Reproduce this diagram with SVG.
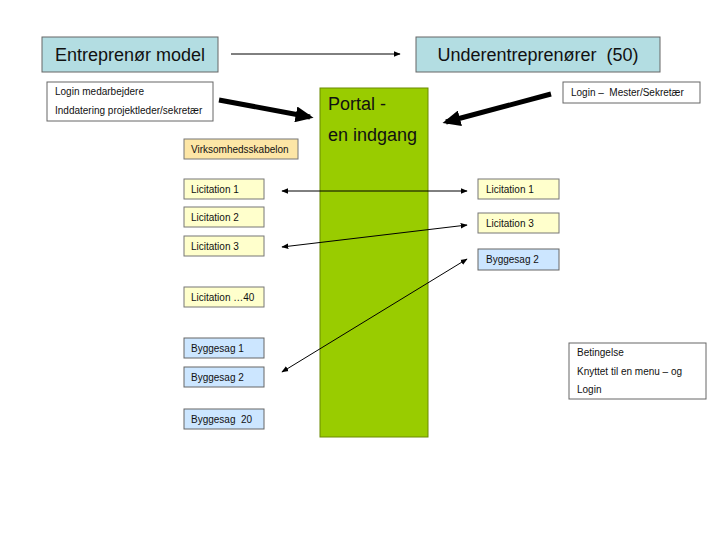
<svg xmlns="http://www.w3.org/2000/svg" width="720" height="540" viewBox="0 0 720 540">
<style>
text{font-family:"Liberation Sans",Arial,sans-serif;fill:#111;white-space:pre}
.title{fill:#b3dde2;stroke:#666;stroke-width:1}
.t{font-size:18px}
.s{font-size:10px}
.white{fill:#fff;stroke:#666;stroke-width:1}
.yel{fill:#ffffcc;stroke:#777;stroke-width:1}
.org{fill:#fde6a6;stroke:#777;stroke-width:1}
.blu{fill:#cce6ff;stroke:#666;stroke-width:1}
.thin{stroke:#000;stroke-width:1;fill:none}
.thick{stroke:#000;stroke-width:5;fill:none}
</style>
<defs>
<marker id="ah" viewBox="0 0 10 10" refX="9" refY="5" markerWidth="7" markerHeight="7" markerUnits="userSpaceOnUse" orient="auto-start-reverse"><path d="M0,1 L10,5 L0,9 z" fill="#000"/></marker>
<marker id="big" viewBox="0 0 10 10" refX="8" refY="5" markerWidth="3.6" markerHeight="3.2" orient="auto" preserveAspectRatio="none"><path d="M0,0 L10,5 L0,10 z" fill="#000"/></marker>
</defs>
<rect width="720" height="540" fill="#fff"/>
<g id="portal"><rect x="320" y="88" width="108" height="349" fill="#99cc00" stroke="#6b8a00"/><text x="328" y="110" style="font-size:18px">Portal -</text><text x="328" y="141" style="font-size:18px">en indgang</text></g>
<g id="entreprenor"><rect class="title" x="42" y="37" width="176" height="35"/><text class="t" x="130" y="61" text-anchor="middle">Entreprenør model</text></g>
<g id="underentreprenorer"><rect class="title" x="416" y="37" width="244" height="35"/><text class="t" x="538" y="61" text-anchor="middle">Underentreprenører  (50)</text></g>
<g id="login-medarbejdere"><rect class="white" x="47" y="82" width="166" height="39"/><text class="s" x="55" y="95">Login medarbejdere</text><text class="s" x="55" y="114">Inddatering projektleder/sekretær</text></g>
<g id="login-mester"><rect class="white" x="563" y="82" width="137" height="21"/><text class="s" x="571" y="96">Login –  Mester/Sekretær</text></g>
<g id="virksomhed"><rect class="org" x="184" y="139" width="114" height="20"/><text class="s" x="191" y="153">Virksomhedsskabelon</text></g>
<g id="lic1-l"><rect class="yel" x="184" y="179" width="80" height="20"/><text class="s" x="191" y="193">Licitation 1</text></g>
<g id="lic2-l"><rect class="yel" x="184" y="207" width="80" height="20"/><text class="s" x="191" y="221">Licitation 2</text></g>
<g id="lic3-l"><rect class="yel" x="184" y="236" width="80" height="20"/><text class="s" x="191" y="250">Licitation 3</text></g>
<g id="lic40-l"><rect class="yel" x="184" y="287" width="80" height="20"/><text class="s" x="191" y="301">Licitation …40</text></g>
<g id="bygg1-l"><rect class="blu" x="184" y="338" width="80" height="20"/><text class="s" x="191" y="352">Byggesag 1</text></g>
<g id="bygg2-l"><rect class="blu" x="184" y="367" width="80" height="20"/><text class="s" x="191" y="381">Byggesag 2</text></g>
<g id="bygg20-l"><rect class="blu" x="184" y="409" width="80" height="20"/><text class="s" x="191" y="423">Byggesag  20</text></g>
<g id="lic1-r"><rect class="yel" x="478" y="179" width="81" height="20"/><text class="s" x="486" y="193">Licitation 1</text></g>
<g id="lic3-r"><rect class="yel" x="478" y="213" width="81" height="20"/><text class="s" x="486" y="227">Licitation 3</text></g>
<g id="bygg2-r"><rect class="blu" x="478" y="249" width="81" height="21"/><text class="s" x="486" y="263">Byggesag 2</text></g>
<g id="betingelse"><rect class="white" x="569" y="343" width="137" height="56"/><text class="s" x="577" y="356">Betingelse</text><text class="s" x="577" y="375">Knyttet til en menu – og</text><text class="s" x="577" y="393">Login</text></g>
<g id="connectors">
<line class="thin" x1="231" y1="54" x2="400" y2="54" marker-end="url(#ah)"/>
<line class="thick" x1="219" y1="100" x2="310" y2="117" marker-end="url(#big)"/>
<line class="thick" x1="551" y1="94" x2="446" y2="122" marker-end="url(#big)"/>
<line class="thin" x1="282" y1="191" x2="467" y2="191" marker-start="url(#ah)" marker-end="url(#ah)"/>
<line class="thin" x1="282" y1="247" x2="467" y2="225" marker-start="url(#ah)" marker-end="url(#ah)"/>
<line class="thin" x1="282" y1="372" x2="467" y2="259" marker-start="url(#ah)" marker-end="url(#ah)"/>
</g>
</svg>
